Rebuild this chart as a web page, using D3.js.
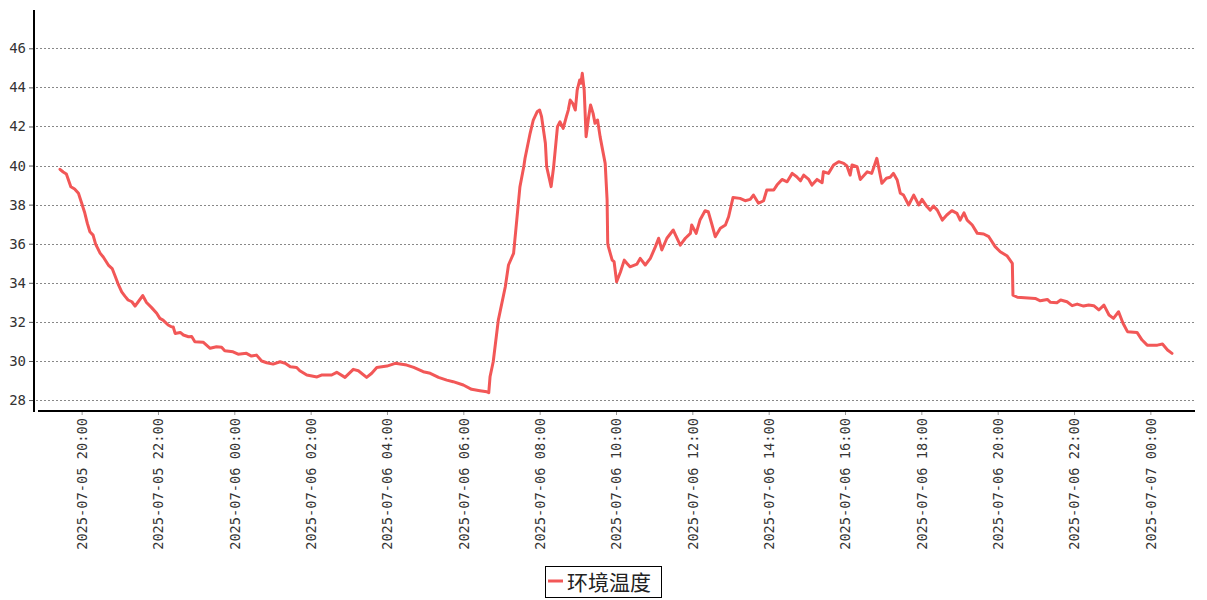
<!DOCTYPE html>
<html>
<head>
<meta charset="utf-8">
<script src="https://cdn.jsdelivr.net/npm/d3@7"></script>
<style>
  html, body { margin: 0; padding: 0; background: #fff; }
  svg { display: block; }
</style>
</head>
<body>
<svg id="chart" width="1207" height="600"></svg>
<script>
// ---- data ----
const seriesName = "环境温度";
const yTicks = [28, 30, 32, 34, 36, 38, 40, 42, 44, 46];
const xTickLabels = [
  "2025-07-05 20:00", "2025-07-05 22:00", "2025-07-06 00:00", "2025-07-06 02:00",
  "2025-07-06 04:00", "2025-07-06 06:00", "2025-07-06 08:00", "2025-07-06 10:00",
  "2025-07-06 12:00", "2025-07-06 14:00", "2025-07-06 16:00", "2025-07-06 18:00",
  "2025-07-06 20:00", "2025-07-06 22:00", "2025-07-07 00:00"
];
const times = [
  "07-05 19:26","07-05 19:31","07-05 19:36","07-05 19:43","07-05 19:49","07-05 19:55","07-05 20:00","07-05 20:05",
  "07-05 20:09","07-05 20:13","07-05 20:18","07-05 20:22","07-05 20:29","07-05 20:34","07-05 20:42","07-05 20:48",
  "07-05 20:52","07-05 20:58","07-05 21:03","07-05 21:08","07-05 21:13","07-05 21:19","07-05 21:24","07-05 21:29",
  "07-05 21:36","07-05 21:42","07-05 21:50","07-05 21:58","07-05 22:03","07-05 22:08","07-05 22:16","07-05 22:21",
  "07-05 22:24","07-05 22:27","07-05 22:35","07-05 22:40","07-05 22:48","07-05 22:53","07-05 22:58","07-05 23:11",
  "07-05 23:22","07-05 23:32","07-05 23:40","07-05 23:45","07-05 23:58","07-06 00:06","07-06 00:19","07-06 00:27",
  "07-06 00:35","07-06 00:43","07-06 00:51","07-06 01:01","07-06 01:12","07-06 01:20","07-06 01:28","07-06 01:38",
  "07-06 01:43","07-06 01:54","07-06 02:10","07-06 02:17","07-06 02:33","07-06 02:41","07-06 02:54","07-06 03:07",
  "07-06 03:15","07-06 03:28","07-06 03:36","07-06 03:44","07-06 04:00","07-06 04:13","07-06 04:31","07-06 04:42",
  "07-06 04:57","07-06 05:08","07-06 05:21","07-06 05:34","07-06 05:44","07-06 06:00","07-06 06:13","07-06 06:26",
  "07-06 06:37","07-06 06:40","07-06 06:42","07-06 06:47","07-06 06:55","07-06 07:06","07-06 07:11","07-06 07:19",
  "07-06 07:24","07-06 07:29","07-06 07:35","07-06 07:37","07-06 07:45","07-06 07:50","07-06 07:56","07-06 08:00",
  "07-06 08:03","07-06 08:09","07-06 08:11","07-06 08:18","07-06 08:22","07-06 08:28","07-06 08:32","07-06 08:37",
  "07-06 08:42","07-06 08:45","07-06 08:48","07-06 08:52","07-06 08:56","07-06 08:59","07-06 09:03","07-06 09:05",
  "07-06 09:07","07-06 09:10","07-06 09:13","07-06 09:17","07-06 09:20","07-06 09:24","07-06 09:27","07-06 09:31",
  "07-06 09:35","07-06 09:39","07-06 09:43","07-06 09:46","07-06 09:47","07-06 09:48","07-06 09:54","07-06 09:57",
  "07-06 10:01","07-06 10:07","07-06 10:13","07-06 10:17","07-06 10:22","07-06 10:33","07-06 10:38","07-06 10:46",
  "07-06 10:54","07-06 11:02","07-06 11:07","07-06 11:12","07-06 11:20","07-06 11:30","07-06 11:41","07-06 11:49",
  "07-06 11:57","07-06 11:59","07-06 12:06","07-06 12:12","07-06 12:20","07-06 12:25","07-06 12:31","07-06 12:36",
  "07-06 12:44","07-06 12:52","07-06 12:57","07-06 13:04","07-06 13:15","07-06 13:23","07-06 13:31","07-06 13:36",
  "07-06 13:44","07-06 13:52","07-06 13:57","07-06 14:08","07-06 14:13","07-06 14:21","07-06 14:29","07-06 14:37",
  "07-06 14:44","07-06 14:50","07-06 14:55","07-06 15:03","07-06 15:08","07-06 15:16","07-06 15:24","07-06 15:26",
  "07-06 15:34","07-06 15:42","07-06 15:50","07-06 15:58","07-06 16:03","07-06 16:08","07-06 16:11","07-06 16:19",
  "07-06 16:24","07-06 16:35","07-06 16:42","07-06 16:50","07-06 16:58","07-06 17:05","07-06 17:11","07-06 17:16",
  "07-06 17:22","07-06 17:27","07-06 17:32","07-06 17:40","07-06 17:48","07-06 17:56","07-06 18:01","07-06 18:09",
  "07-06 18:14","07-06 18:19","07-06 18:25","07-06 18:33","07-06 18:40","07-06 18:48","07-06 18:56","07-06 19:01",
  "07-06 19:07","07-06 19:12","07-06 19:20","07-06 19:28","07-06 19:38","07-06 19:46","07-06 19:56","07-06 20:04",
  "07-06 20:15","07-06 20:23","07-06 20:24","07-06 20:31","07-06 20:59","07-06 21:07","07-06 21:18","07-06 21:23",
  "07-06 21:33","07-06 21:39","07-06 21:49","07-06 21:57","07-06 22:05","07-06 22:15","07-06 22:23","07-06 22:31",
  "07-06 22:39","07-06 22:47","07-06 22:55","07-06 23:02","07-06 23:10","07-06 23:17","07-06 23:24","07-06 23:39",
  "07-06 23:47","07-06 23:55","07-07 00:11","07-07 00:19","07-07 00:27","07-07 00:34"
];
const temps = [
  39.81,39.67,39.57,38.92,38.80,38.58,38.08,37.57,
  37.04,36.61,36.44,35.98,35.52,35.32,34.91,34.73,
  34.40,33.89,33.54,33.32,33.12,33.03,32.81,33.03,
  33.35,32.99,32.73,32.44,32.18,32.09,31.84,31.75,
  31.74,31.41,31.46,31.33,31.24,31.25,30.98,30.96,
  30.65,30.73,30.70,30.52,30.47,30.35,30.39,30.25,
  30.30,30.00,29.91,29.84,29.96,29.88,29.70,29.67,
  29.50,29.28,29.18,29.28,29.28,29.42,29.16,29.57,
  29.50,29.16,29.37,29.67,29.74,29.88,29.79,29.67,
  29.45,29.37,29.16,29.02,28.94,28.77,28.55,28.48,
  28.42,28.38,29.19,29.96,32.09,33.80,34.91,35.51,
  37.21,38.92,39.94,40.37,41.65,42.33,42.75,42.84,
  42.50,41.14,39.94,38.92,39.94,41.99,42.24,41.90,
  42.50,42.84,43.35,43.18,42.84,43.86,44.38,44.21,
  44.72,43.86,41.48,42.50,43.10,42.67,42.16,42.33,
  41.48,40.79,40.11,38.24,36.02,35.85,35.16,35.08,
  34.05,34.55,35.16,35.00,34.82,34.96,35.25,34.91,
  35.25,35.85,36.28,35.68,36.28,36.70,35.93,36.28,
  36.53,36.96,36.53,37.21,37.69,37.64,36.96,36.36,
  36.79,36.96,37.38,38.37,38.32,38.20,38.27,38.49,
  38.07,38.20,38.75,38.75,39.00,39.29,39.17,39.60,
  39.43,39.22,39.51,39.29,39.00,39.29,39.12,39.68,
  39.60,40.03,40.20,40.11,39.98,39.51,40.03,39.94,
  39.29,39.68,39.60,40.37,39.09,39.35,39.40,39.60,
  39.26,38.58,38.49,37.98,38.49,37.98,38.27,37.89,
  37.72,37.93,37.72,37.21,37.47,37.69,37.55,37.21,
  37.58,37.21,36.96,36.53,36.50,36.36,35.85,35.59,
  35.37,35.00,33.37,33.26,33.20,33.08,33.15,33.00,
  32.98,33.12,33.03,32.83,32.91,32.81,32.86,32.83,
  32.61,32.86,32.35,32.18,32.52,31.93,31.50,31.46,
  31.07,30.81,30.81,30.87,30.56,30.39
];

// ---- drawing ----
const parse = d3.timeParse("%Y-%m-%d %H:%M");
const data = times.map((t, i) => ({ t: parse("2025-" + t), v: temps[i] }));

const svg = d3.select("#chart");
const fontTick = "'DejaVu Sans Mono', monospace";
const plot = { left: 34, right: 1195, top: 10, bottom: 411 };

const x = d3.scaleTime()
  .domain(d3.extent(data, d => d.t))
  .range([60, 1172]);
const y = d3.scaleLinear()
  .domain([27.44, 47.96])
  .range([plot.bottom, plot.top]);

// grid lines
svg.append("g")
  .selectAll("line")
  .data(yTicks)
  .join("line")
  .attr("x1", plot.left + 2)
  .attr("x2", plot.right)
  .attr("y1", d => Math.round(y(d)) + 0.5)
  .attr("y2", d => Math.round(y(d)) + 0.5)
  .attr("stroke", "#888")
  .attr("stroke-width", 1)
  .attr("stroke-dasharray", "2,2");

// y axis
const yAxis = d3.axisLeft(y).tickValues(yTicks).tickSize(5).tickPadding(3).tickFormat(d3.format("d"));
const gy = svg.append("g").attr("transform", `translate(${plot.left},0)`).call(yAxis);
gy.select(".domain").remove();
gy.selectAll(".tick line").attr("stroke", "#555");
gy.selectAll(".tick text")
  .attr("fill", "#333")
  .style("font-family", fontTick)
  .style("font-size", "14px");
svg.append("line")
  .attr("x1", plot.left).attr("x2", plot.left)
  .attr("y1", plot.top).attr("y2", plot.bottom + 1)
  .attr("stroke", "#000").attr("stroke-width", 2);

// x axis
const tickDates = xTickLabels.map(s => parse(s));
const xAxis = d3.axisBottom(x)
  .tickValues(tickDates)
  .tickSize(4)
  .tickFormat(d3.timeFormat("%Y-%m-%d %H:%M"));
const gx = svg.append("g").attr("transform", `translate(0,${plot.bottom})`).call(xAxis);
gx.select(".domain").remove();
gx.selectAll(".tick line").attr("stroke", "#999");
gx.selectAll(".tick text")
  .attr("fill", "#333")
  .style("font-family", fontTick)
  .style("font-size", "13.7px")
  .attr("transform", "rotate(-90)")
  .attr("text-anchor", "end")
  .attr("x", -7)
  .attr("y", 0)
  .attr("dy", "0.35em");
svg.append("line")
  .attr("x1", plot.left + 4).attr("x2", plot.right)
  .attr("y1", plot.bottom).attr("y2", plot.bottom)
  .attr("stroke", "#000").attr("stroke-width", 2);

// line
const line = d3.line().x(d => x(d.t)).y(d => y(d.v));
svg.append("path")
  .datum(data)
  .attr("d", line)
  .attr("fill", "none")
  .attr("stroke", "#f25757")
  .attr("stroke-width", 3)
  .attr("stroke-linejoin", "round")
  .attr("stroke-linecap", "round");

// legend
const lg = svg.append("g");
lg.append("rect")
  .attr("x", 545.5).attr("y", 566.5)
  .attr("width", 116).attr("height", 31)
  .attr("fill", "#fff").attr("stroke", "#000").attr("stroke-width", 1);
lg.append("line")
  .attr("x1", 548).attr("x2", 563)
  .attr("y1", 581).attr("y2", 581)
  .attr("stroke", "#f25757").attr("stroke-width", 3);
lg.append("text")
  .attr("x", 567).attr("y", 590)
  .attr("fill", "#222")
  .style("font-family", "'Noto Sans CJK SC', sans-serif")
  .style("font-size", "21px")
  .text(seriesName);
</script>
</body>
</html>
